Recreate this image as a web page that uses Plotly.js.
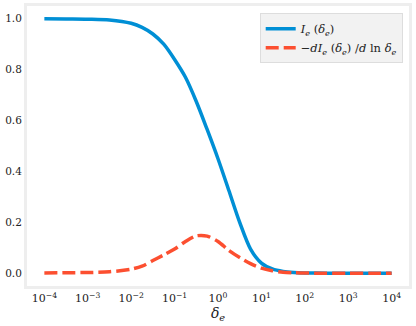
<!DOCTYPE html>
<html>
<head>
<meta charset="utf-8">
<script src="https://cdn.plot.ly/plotly-3.0.1.min.js"></script>
<style>
  html, body { margin: 0; padding: 0; background: #ffffff; }
  #chart { width: 416px; height: 326px; }
</style>
</head>
<body>
<div id="chart"></div>
<script>
  // delta_e sample points (log spaced)
  var deltaE = [1e-4, 3.16e-4, 1e-3, 3.16e-3, 1e-2, 1.78e-2, 3.16e-2, 5.62e-2, 0.1, 0.178,
    0.316, 0.562, 1, 1.78, 3.16, 5.62, 10, 17.8, 31.6, 56.2, 100, 316, 1000, 3162, 1e4];

  // I_e(delta_e)
  var iE = [1.000, 0.999, 0.998, 0.995, 0.982, 0.966, 0.940, 0.900, 0.840, 0.770,
    0.675, 0.565, 0.450, 0.325, 0.200, 0.095, 0.040, 0.017, 0.007, 0.003, 0.0015, 0.0005, 0.0002, 0.0001, 0.0];

  // -dI_e/dln delta_e
  var dIe = [0.001, 0.002, 0.003, 0.006, 0.016, 0.028, 0.050, 0.072, 0.095, 0.125,
    0.147, 0.146, 0.125, 0.090, 0.062, 0.038, 0.020, 0.010, 0.004, 0.002, 0.001, 0.0, 0.0, 0.0, 0.0];

  var xTickVals = [1e-4, 1e-3, 1e-2, 1e-1, 1, 10, 100, 1000, 1e4];
  var xTickText = ["10<sup>−4</sup>", "10<sup>−3</sup>", "10<sup>−2</sup>", "10<sup>−1</sup>",
    "10<sup>0</sup>", "10<sup>1</sup>", "10<sup>2</sup>", "10<sup>3</sup>", "10<sup>4</sup>"];
  var yTickVals = [0, 0.2, 0.4, 0.6, 0.8, 1.0];
  var yTickText = ["0.0", "0.2", "0.4", "0.6", "0.8", "1.0"];

  var SERIF = "DejaVu Serif";
  var FRAME = "#eeeeee";

  var traces = [
    {
      x: deltaE, y: iE, mode: "lines", line: { color: "#008fd5", width: 3.5, shape: "spline", smoothing: 0.8 },
      name: "<i>I<sub>e</sub></i> (<i>δ<sub>e</sub></i>)"
    },
    {
      x: deltaE, y: dIe, mode: "lines", line: { color: "#fc4f30", width: 3.5, shape: "spline", smoothing: 0.8, dash: "13px,5px" },
      name: "−<i>dI<sub>e</sub></i> (<i>δ<sub>e</sub></i>) /<i>d</i> ln <i>δ<sub>e</sub></i>"
    }
  ];

  Plotly.newPlot("chart", traces, {
    width: 416, height: 326, autosize: false,
    paper_bgcolor: "#ffffff", plot_bgcolor: "#ffffff",
    margin: { l: 27, r: 7, t: 6, b: 40 },
    font: { family: SERIF, size: 11, color: "#222222" },
    xaxis: {
      type: "log", range: [-4.4, 4.4],
      tickvals: xTickVals, ticktext: xTickText, ticks: "",
      showgrid: false, zeroline: false,
      showline: true, mirror: true, linecolor: FRAME, linewidth: 3,
      tickfont: { family: SERIF, size: 11, color: "#222222" },
      title: { text: "<i>δ<sub>e</sub></i>", font: { family: SERIF, size: 14, color: "#222222" }, standoff: 0 }
    },
    yaxis: {
      range: [-0.05, 1.05],
      tickvals: yTickVals, ticktext: yTickText, ticks: "",
      showgrid: false, zeroline: false,
      showline: true, mirror: true, linecolor: FRAME, linewidth: 3,
      tickfont: { family: SERIF, size: 10.5, color: "#222222" }
    },
    showlegend: true,
    legend: {
      x: 0.9835, xanchor: "right", y: 0.974, yanchor: "top",
      bgcolor: "#f2f2f2", bordercolor: "#dddddd", borderwidth: 1,
      font: { family: SERIF, size: 11.5, color: "#222222" }
    }
  }, { displayModeBar: false, staticPlot: true });
</script>
</body>
</html>
